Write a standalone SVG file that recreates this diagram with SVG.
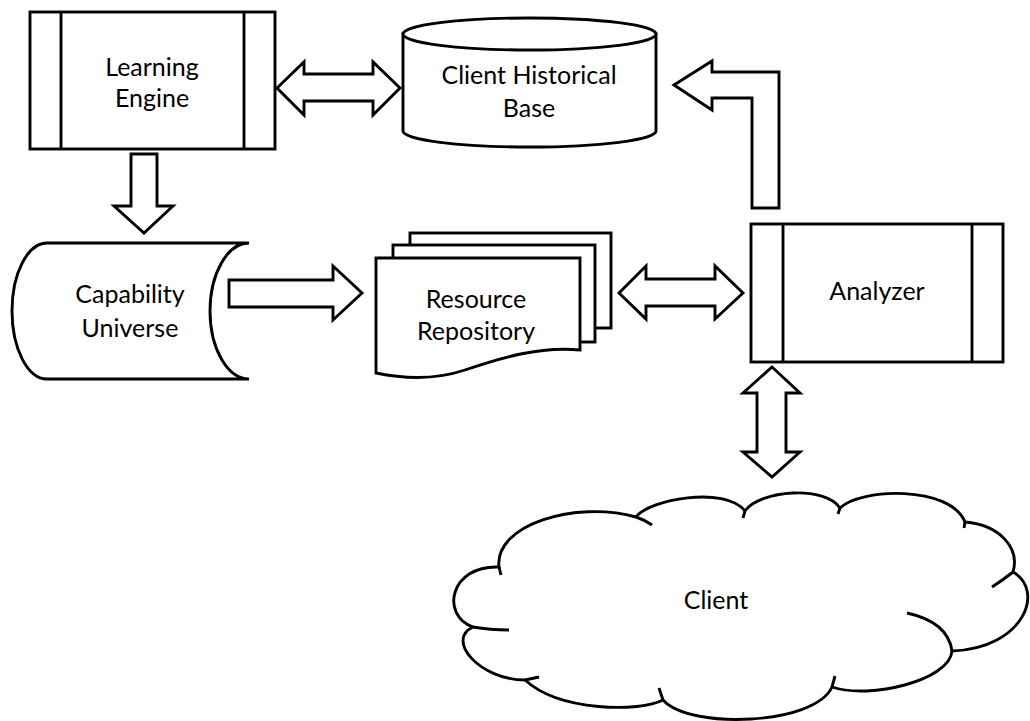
<svg xmlns="http://www.w3.org/2000/svg" width="1030" height="721" viewBox="0 0 1030 721">
  <style>
    .shape { fill: #ffffff; stroke: #000000; stroke-width: 2.9; stroke-linejoin: miter; }
    .line { fill: none; stroke: #000000; stroke-width: 2.9; stroke-linecap: butt; }
    .label { font-family: Lato, "Liberation Sans", sans-serif; font-size: 25px; fill: #000000; text-anchor: middle; }
  </style>
  <rect x="0" y="0" width="1030" height="721" fill="#ffffff"/>

  <!-- Connectors: block arrows -->
  <g id="connectors">
    <!-- Learning Engine <-> Client Historical Base -->
    <polygon class="shape" points="277,88 304,62 304,74 373,74 373,62 400,88 373,115 373,101 304,101 304,115"/>
    <!-- Learning Engine -> Capability Universe -->
    <polygon class="shape" points="131,154 157,154 157,206 173,206 144,233 114,206 131,206"/>
    <!-- Capability Universe -> Resource Repository -->
    <polygon class="shape" points="229,280 333,280 333,266 362,293 333,320 333,307 229,307"/>
    <!-- Resource Repository <-> Analyzer -->
    <polygon class="shape" points="619,293 646,266 646,279 715,279 715,266 743,293 715,319 715,306 646,306 646,319"/>
    <!-- Analyzer -> Client Historical Base (bent) -->
    <polygon class="shape" points="674,85 712,61 712,72 779,72 779,208 752,208 752,98 712,98 712,110"/>
    <!-- Analyzer <-> Client -->
    <polygon class="shape" points="772,367 800,393 786,393 786,452 800,452 772,477 743,452 757,452 757,393 743,393"/>
  </g>

  <!-- Learning Engine: predefined process -->
  <g id="learning-engine">
    <rect class="shape" x="30" y="12" width="245" height="137"/>
    <line class="line" x1="61" y1="12" x2="61" y2="149"/>
    <line class="line" x1="244" y1="12" x2="244" y2="149"/>
    <text class="label" x="152" y="76">Learning</text>
    <text class="label" x="152" y="107">Engine</text>
  </g>

  <!-- Client Historical Base: cylinder -->
  <g id="client-historical-base">
    <path class="shape" d="M403,34 V131 A126.5,16 0 0 0 656,131 V34 Z"/>
    <ellipse class="shape" cx="529.5" cy="34" rx="126.5" ry="16"/>
    <text class="label" x="529" y="84">Client Historical</text>
    <text class="label" x="529" y="117">Base</text>
  </g>

  <!-- Capability Universe: stored data -->
  <g id="capability-universe">
    <path class="shape" d="M47,243 H249 A39,68 0 0 0 249,379 H47 A35,68 0 0 1 47,243 Z"/>
    <text class="label" x="130" y="303">Capability</text>
    <text class="label" x="130" y="337">Universe</text>
  </g>

  <!-- Resource Repository: stacked documents -->
  <g id="resource-repository">
    <rect class="shape" x="410" y="233" width="201" height="95"/>
    <rect class="shape" x="393" y="245" width="202" height="97"/>
    <path class="shape" d="M376,258 H580 V350 C540,346 500,358 465,370 C435,380 405,379 376,373 Z"/>
    <text class="label" x="476" y="308">Resource</text>
    <text class="label" x="476" y="340">Repository</text>
  </g>

  <!-- Analyzer: predefined process -->
  <g id="analyzer">
    <rect class="shape" x="751" y="224" width="252" height="138"/>
    <line class="line" x1="783" y1="224" x2="783" y2="362"/>
    <line class="line" x1="972" y1="224" x2="972" y2="362"/>
    <text class="label" x="877" y="300">Analyzer</text>
  </g>

  <!-- Client: cloud -->
  <g id="client">
    <path class="shape" d="M499,567
      C494,525 575,500 636,517
      C648,500 725,485 745,511
      C760,490 825,485 840,508
      C860,488 950,485 965,522
      C1000,525 1020,548 1013,572
      C1045,590 1025,648 952,651
      C950,680 870,700 832,687
      C815,725 690,730 663,700
      C640,712 560,712 525,680
      C480,680 445,640 473,627
      C440,615 450,565 499,567 Z"/>
    <path class="line" d="M499,567 L501,575"/>
    <path class="line" d="M636,517 Q645,520 652,525"/>
    <path class="line" d="M745,511 L743,518"/>
    <path class="line" d="M840,508 L838,514"/>
    <path class="line" d="M965,522 L964,528"/>
    <path class="line" d="M1013,572 Q1003,580 992,587"/>
    <path class="line" d="M952,651 Q948,622 907,613"/>
    <path class="line" d="M832,687 L835,676"/>
    <path class="line" d="M663,700 L659,688"/>
    <path class="line" d="M525,680 L539,677"/>
    <path class="line" d="M473,627 Q490,630 509,630"/>
    <text class="label" x="716" y="609">Client</text>
  </g>
</svg>
